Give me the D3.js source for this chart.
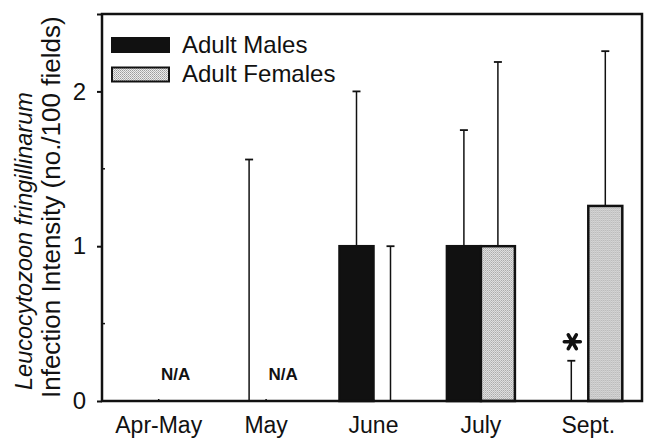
<!DOCTYPE html>
<html><head><meta charset="utf-8">
<script src="https://cdn.jsdelivr.net/npm/d3@7"></script>
<style>
body{margin:0;background:#fff}
svg{display:block;font-family:"Liberation Sans",Arial,sans-serif}
</style>
</head><body>
<svg id="chart" width="647" height="441"></svg>
<script>
// Sampling periods and the two groups of birds
const categories = ["Apr-May", "May", "June", "July", "Sept."];
const series = ["Adult Males", "Adult Females"];
// Mean infection intensity and its SD (null = not available)
const maleMean = [0, 0, 1.0, 1.0, 0];
const maleSD = [null, 1.56, 1.0, 0.75, 0.26];
const femaleMean = [null, null, 0, 1.0, 1.26];
const femaleSD = [null, null, 1.0, 1.19, 1.0];
const yTicks = [0, 1, 2];
const yMinorTicks = [0.5, 1.5];
const yTitleItalic = "Leucocytozoon fringillinarum";
const yTitleLine2 = "Infection Intensity (no./100 fields)";
const naLabel = "N/A";
const starIndex = 4; // Sept. males marked as significant

const svg = d3.select("#chart");
const plot = {left: 102, right: 642, top: 14, bottom: 401};

const y = d3.scaleLinear().domain([0, 2.5]).range([plot.bottom, plot.top]);
const x = d3.scaleBand().domain(categories).range([105, 642]);
const barW = 34;
const sub = d3.scaleBand().domain(series)
  .range([x.bandwidth() / 2 - barW, x.bandwidth() / 2 + barW]);

// stipple fill for the female bars
const defs = svg.append("defs");
const pat = defs.append("pattern").attr("id", "stipple")
  .attr("width", 2).attr("height", 2).attr("patternUnits", "userSpaceOnUse");
pat.append("rect").attr("width", 2).attr("height", 2).attr("fill", "#ececec");
pat.append("rect").attr("x", 0).attr("y", 0).attr("width", 1).attr("height", 1).attr("fill", "#9c9c9c");
pat.append("rect").attr("x", 1).attr("y", 1).attr("width", 1).attr("height", 1).attr("fill", "#b4b4b4");

const fills = {"Adult Males": "#111", "Adult Females": "url(#stipple)"};

const rows = categories.map((c, i) => ({
  cat: c,
  vals: [
    {s: series[0], mean: maleMean[i], sd: maleSD[i], i},
    {s: series[1], mean: femaleMean[i], sd: femaleSD[i], i}
  ]
}));

const groups = svg.append("g").selectAll("g").data(rows).join("g")
  .attr("transform", d => `translate(${x(d.cat)},0)`);

// bars
groups.selectAll("rect.bar").data(d => d.vals.filter(v => v.mean != null && v.mean > 0))
  .join("rect").attr("class", "bar")
  .attr("x", v => sub(v.s)).attr("width", barW)
  .attr("y", v => y(v.mean)).attr("height", v => y(0) - y(v.mean))
  .attr("fill", v => fills[v.s])
  .attr("stroke", "#111").attr("stroke-width", 2.5);

// upper error bars
const eb = groups.selectAll("g.err").data(d => d.vals.filter(v => v.sd != null && v.sd > 0))
  .join("g").attr("class", "err")
  .attr("transform", v => `translate(${sub(v.s) + barW / 2},0)`);
eb.append("line").attr("x1", 0).attr("x2", 0)
  .attr("y1", v => y(v.mean)).attr("y2", v => y(v.mean + v.sd))
  .attr("stroke", "#111").attr("stroke-width", 1.5);
eb.append("line").attr("x1", -4).attr("x2", 4)
  .attr("y1", v => y(v.mean + v.sd)).attr("y2", v => y(v.mean + v.sd))
  .attr("stroke", "#111").attr("stroke-width", 1.8);

// N/A labels
groups.selectAll("text.na").data(d => d.vals.filter(v => v.mean == null))
  .join("text").attr("class", "na")
  .attr("x", v => sub(v.s) + barW / 2).attr("y", 380)
  .attr("text-anchor", "middle").attr("font-size", 17).attr("font-weight", "bold")
  .attr("fill", "#111").text(naLabel);

// significance asterisk
const sv = rows[starIndex].vals[0];
svg.append("path")
  .attr("d", d3.symbol(d3.symbolAsterisk, 180)())
  .attr("transform", `translate(${x(categories[starIndex]) + sub(sv.s) + barW / 2 + 1},${y(sv.mean + sv.sd) - 19}) rotate(90)`)
  .attr("stroke", "#111").attr("stroke-width", 3.6).attr("fill", "none")
  .attr("stroke-linecap", "round");

// frame
svg.append("rect").attr("x", plot.left).attr("y", plot.top)
  .attr("width", plot.right - plot.left).attr("height", plot.bottom - plot.top)
  .attr("fill", "none").attr("stroke", "#111").attr("stroke-width", 2.5);

// y axis with outward major ticks
const yAxis = svg.append("g").attr("transform", `translate(${plot.left},0)`)
  .call(d3.axisLeft(y).tickValues(yTicks.concat([2.5])).tickSize(5).tickPadding(11)
    .tickFormat(d => yTicks.includes(d) ? d3.format("d")(d) : ""));
yAxis.select(".domain").remove();
yAxis.selectAll(".tick line").attr("stroke", "#111").attr("stroke-width", 2);
yAxis.selectAll(".tick text").attr("font-size", 24).attr("fill", "#111")
  .attr("font-family", "Liberation Sans, Arial, sans-serif");

// inward minor ticks
svg.append("g").selectAll("line").data(yMinorTicks).join("line")
  .attr("x1", plot.left).attr("x2", plot.left + 3)
  .attr("y1", d => y(d)).attr("y2", d => y(d))
  .attr("stroke", "#111").attr("stroke-width", 1.5);

// x axis: short inward ticks at category centres
const xAxis = svg.append("g").attr("transform", `translate(0,${plot.bottom})`)
  .call(d3.axisBottom(x).tickSize(-2).tickPadding(16));
xAxis.select(".domain").remove();
xAxis.selectAll(".tick line").attr("stroke", "#111").attr("stroke-width", 1.5);
xAxis.selectAll(".tick text").attr("font-size", 23).attr("fill", "#111")
  .attr("font-family", "Liberation Sans, Arial, sans-serif");

// legend
const lg = svg.append("g").attr("transform", "translate(112,38)");
series.forEach((s, i) => {
  lg.append("rect").attr("x", 0).attr("y", i * 29.5).attr("width", 57).attr("height", 14)
    .attr("fill", fills[s]).attr("stroke", "#111").attr("stroke-width", 2);
  lg.append("text").attr("x", 70).attr("y", i * 29.5 + 14.5)
    .attr("font-size", 24).attr("fill", "#111").text(s);
});

// y axis title (two rotated lines)
const yt = svg.append("g").attr("fill", "#111");
yt.append("text").attr("transform", "translate(32,390) rotate(-90)")
  .attr("font-size", 23.5).attr("font-style", "italic").text(yTitleItalic);
yt.append("text").attr("transform", "translate(60,398) rotate(-90)")
  .attr("font-size", 26).text(yTitleLine2);
</script>
</body></html>
